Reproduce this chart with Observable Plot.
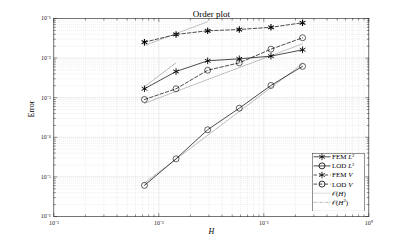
<!DOCTYPE html>
<html><head><meta charset="utf-8">
<script src="https://cdn.jsdelivr.net/npm/d3@7"></script>
<script src="https://cdn.jsdelivr.net/npm/@observablehq/plot@0.6"></script>
<style>
body{margin:0;background:#fff}
#wrap{position:relative;width:407px;height:244px;font-family:"Liberation Serif",serif}
#legend{position:absolute;left:311.5px;top:152.5px}
</style>
</head><body><div id="wrap"></div>
<script>
// ---- data ----
const H = [0.0073, 0.0146, 0.0292, 0.0584, 0.117, 0.234];
const femL2 = [0.00168, 0.00459, 0.00855, 0.0096, 0.0112, 0.0162];
const lodL2 = [6.1e-6, 2.86e-5, 1.55e-4, 5.43e-4, 2.04e-3, 6.2e-3];
const femV  = [0.0252, 0.0395, 0.049, 0.0527, 0.060, 0.078];
const lodV  = [0.0009, 0.00168, 0.00494, 0.0076, 0.0168, 0.0326];
// reference slopes (endpoints)
const refFemV_x = [0.0073, 0.0292], refFemV_y = [0.0208, 0.083];   // O(H)
const refFemL2_x = [0.0073, 0.0146], refFemL2_y = [0.0019, 0.0076]; // O(H^2)
const refLodV_x = [0.0073, 0.234], refLodV_y = [0.00072, 0.023];    // O(H)
const refLodL2_x = [0.0073, 0.234], refLodL2_y = [7e-6, 7.2e-3];    // O(H^2)
// ticks
const xMajor = [1e-3, 1e-2, 1e-1, 1];
const xTickLabels = ["10\u207B\u00B3", "10\u207B\u00B2", "10\u207B\u00B9", "10\u2070"];
const yMajor = [1e-6, 1e-5, 1e-4, 1e-3, 1e-2, 1e-1];
const yTickLabels = ["10\u207B\u2076", "10\u207B\u2075", "10\u207B\u2074", "10\u207B\u00B3", "10\u207B\u00B2", "10\u207B\u00B9"];
const legendLabels = ["FEM L2", "LOD L2", "FEM V", "LOD V", "O(H)", "O(H2)"];

const xMinor = d3.range(-3, 0).flatMap(e => d3.range(2, 10).map(k => k * Math.pow(10, e)));
const yMinor = d3.range(-6, -1).flatMap(e => d3.range(2, 10).map(k => k * Math.pow(10, e)));

const tbl = ys => H.map((h, i) => ({h, v: ys[i]}));
const ref = (xs, ys) => xs.map((x, i) => ({h: x, v: ys[i]}));
const xLab = xMajor.map((v, i) => ({v, t: xTickLabels[i]}));
const yLab = yMajor.map((v, i) => ({v, t: yTickLabels[i]}));

const ink = "#262626";
const tickShape = {draw(ctx, l) { ctx.moveTo(0, 0); ctx.lineTo(0, -l); }};
const ticks = (data, k, anchor, len) => Plot.vector(data, {
  [k]: d => d, frameAnchor: anchor, length: len, anchor: "start", shape: tickShape,
  rotate: anchor === "bottom" ? 0 : anchor === "top" ? 180 : anchor === "left" ? 90 : -90,
  stroke: ink, strokeWidth: 0.5
});

const chart = Plot.plot({
  width: 407, height: 244,
  marginLeft: 53.3, marginRight: 38.7, marginTop: 18, marginBottom: 28,
  style: {fontFamily: "'Liberation Serif', serif", background: "white", overflow: "visible"},
  x: {type: "log", domain: [1e-3, 1], axis: null},
  y: {type: "log", domain: [1e-6, 1e-1], axis: null},
  marks: [
    Plot.ruleX(xMinor, {x: d => d, stroke: "#d4d4d4", strokeWidth: 0.5, strokeDasharray: "0.8,1.2"}),
    Plot.ruleY(yMinor, {y: d => d, stroke: "#d4d4d4", strokeWidth: 0.5, strokeDasharray: "0.8,1.2"}),
    Plot.ruleX(xMajor, {x: d => d, stroke: "#dcdcdc", strokeWidth: 0.6}),
    Plot.ruleY(yMajor, {y: d => d, stroke: "#dcdcdc", strokeWidth: 0.6}),
    ticks(xMajor, "x", "bottom", 3), ticks(xMajor, "x", "top", 3),
    ticks(xMinor, "x", "bottom", 1.6), ticks(xMinor, "x", "top", 1.6),
    ticks(yMajor, "y", "left", 3), ticks(yMajor, "y", "right", 3),
    ticks(yMinor, "y", "left", 1.6), ticks(yMinor, "y", "right", 1.6),
    // tick labels
    Plot.text(xLab, {x: "v", text: "t", frameAnchor: "bottom", dy: 8, fontSize: 6, fill: ink}),
    Plot.text(yLab, {y: "v", text: "t", frameAnchor: "left", dx: -3, textAnchor: "end", fontSize: 6, fill: ink}),
    Plot.frame({stroke: ink, strokeWidth: 0.6}),
    // reference lines
    Plot.line(ref(refFemV_x, refFemV_y), {x: "h", y: "v", stroke: "#707070", strokeWidth: 0.5, strokeDasharray: "1,1"}),
    Plot.line(ref(refLodV_x, refLodV_y), {x: "h", y: "v", stroke: "#707070", strokeWidth: 0.5, strokeDasharray: "1,1"}),
    Plot.line(ref(refFemL2_x, refFemL2_y), {x: "h", y: "v", stroke: "#707070", strokeWidth: 0.5, strokeDasharray: "3,1,1,1"}),
    Plot.line(ref(refLodL2_x, refLodL2_y), {x: "h", y: "v", stroke: "#707070", strokeWidth: 0.5, strokeDasharray: "3,1,1,1"}),
    // series
    Plot.line(tbl(femL2), {x: "h", y: "v", stroke: "black", strokeWidth: 0.7}),
    Plot.line(tbl(lodL2), {x: "h", y: "v", stroke: "black", strokeWidth: 0.7}),
    Plot.line(tbl(femV), {x: "h", y: "v", stroke: "black", strokeWidth: 0.7, strokeDasharray: "3.5,2"}),
    Plot.line(tbl(lodV), {x: "h", y: "v", stroke: "black", strokeWidth: 0.7, strokeDasharray: "3.5,2"}),
    Plot.dot(tbl(femL2), {x: "h", y: "v", symbol: "asterisk", r: 3.1, stroke: "black", strokeWidth: 0.9}),
    Plot.dot(tbl(femV), {x: "h", y: "v", symbol: "asterisk", r: 3.1, stroke: "black", strokeWidth: 1.1}),
    Plot.dot(tbl(lodL2), {x: "h", y: "v", symbol: "circle", r: 3, stroke: "black", fill: "none", strokeWidth: 0.6}),
    Plot.dot(tbl(lodV), {x: "h", y: "v", symbol: "circle", r: 3, stroke: "black", fill: "none", strokeWidth: 0.6}),
    // titles
    Plot.text(["Order plot"], {frameAnchor: "top", dy: -7.5, fontSize: 9, fill: "black"}),
    Plot.text(["Error"], {frameAnchor: "left", dx: -22, rotate: -90, fontSize: 8, fill: "black"}),
    Plot.text(["H"], {frameAnchor: "bottom", dy: 17, fontSize: 8, fontStyle: "italic", fill: "black"})
  ]
});
const wrap = document.getElementById("wrap");
wrap.appendChild(chart);

// legend
const lw = 53, lh = 58.5;
const leg = d3.select(wrap).append("svg").attr("id", "legend").attr("width", lw).attr("height", lh)
  .style("font-family", "'Liberation Serif', serif");
leg.append("rect").attr("x", 0.3).attr("y", 0.3).attr("width", lw - 0.6).attr("height", lh - 0.6)
  .attr("fill", "white").attr("stroke", ink).attr("stroke-width", 0.5);
const styles = [
  {dash: null, sym: d3.symbolAsterisk, c: "black", w: 0.7},
  {dash: null, sym: d3.symbolCircle, c: "black", w: 0.7},
  {dash: "3.5,2", sym: d3.symbolAsterisk, c: "black", w: 0.7},
  {dash: "3.5,2", sym: d3.symbolCircle, c: "black", w: 0.7},
  {dash: "1,1", sym: null, c: "#707070", w: 0.5},
  {dash: "3,1,1,1", sym: null, c: "#707070", w: 0.5}
];
legendLabels.forEach((lab, i) => {
  const y = 3.8 + i * 9.1;
  const s = styles[i];
  const g = leg.append("g").attr("transform", `translate(0,${y})`);
  g.append("line").attr("x1", 1.5).attr("x2", 18.5).attr("y1", 0).attr("y2", 0)
    .attr("stroke", s.c).attr("stroke-width", s.w).attr("stroke-dasharray", s.dash);
  if (s.sym) {
    const size = s.sym === d3.symbolCircle ? 28 : 30;
    g.append("path").attr("d", d3.symbol(s.sym, size)()).attr("transform", "translate(10,0)")
      .attr("fill", "none").attr("stroke", "black").attr("stroke-width", 0.8);
  }
  const t = g.append("text").attr("x", 20).attr("y", 2.4).attr("font-size", 7).attr("fill", "black");
  const parts = {
    "FEM L2": [["FEM ", ""], ["L", "i"], ["2", "sup"]],
    "LOD L2": [["LOD ", ""], ["L", "i"], ["2", "sup"]],
    "FEM V": [["FEM ", ""], ["V", "i"]],
    "LOD V": [["LOD ", ""], ["V", "i"]],
    "O(H)": [["\uD835\uDCAA", ""], ["(", ""], ["H", "i"], [")", ""]],
    "O(H2)": [["\uD835\uDCAA", ""], ["(", ""], ["H", "i"], ["2", "sup"], [")", ""]]
  }[lab];
  parts.forEach(([txt, st]) => {
    const sp = t.append("tspan").text(txt);
    if (st === "i") sp.attr("font-style", "italic");
    if (st === "sup") sp.attr("font-size", 4.8).attr("dy", -2.6);
    if (st === "" && txt === ")" && parts.some(p => p[1] === "sup")) sp.attr("dy", 2.6);
  });
});
</script>
</body></html>
